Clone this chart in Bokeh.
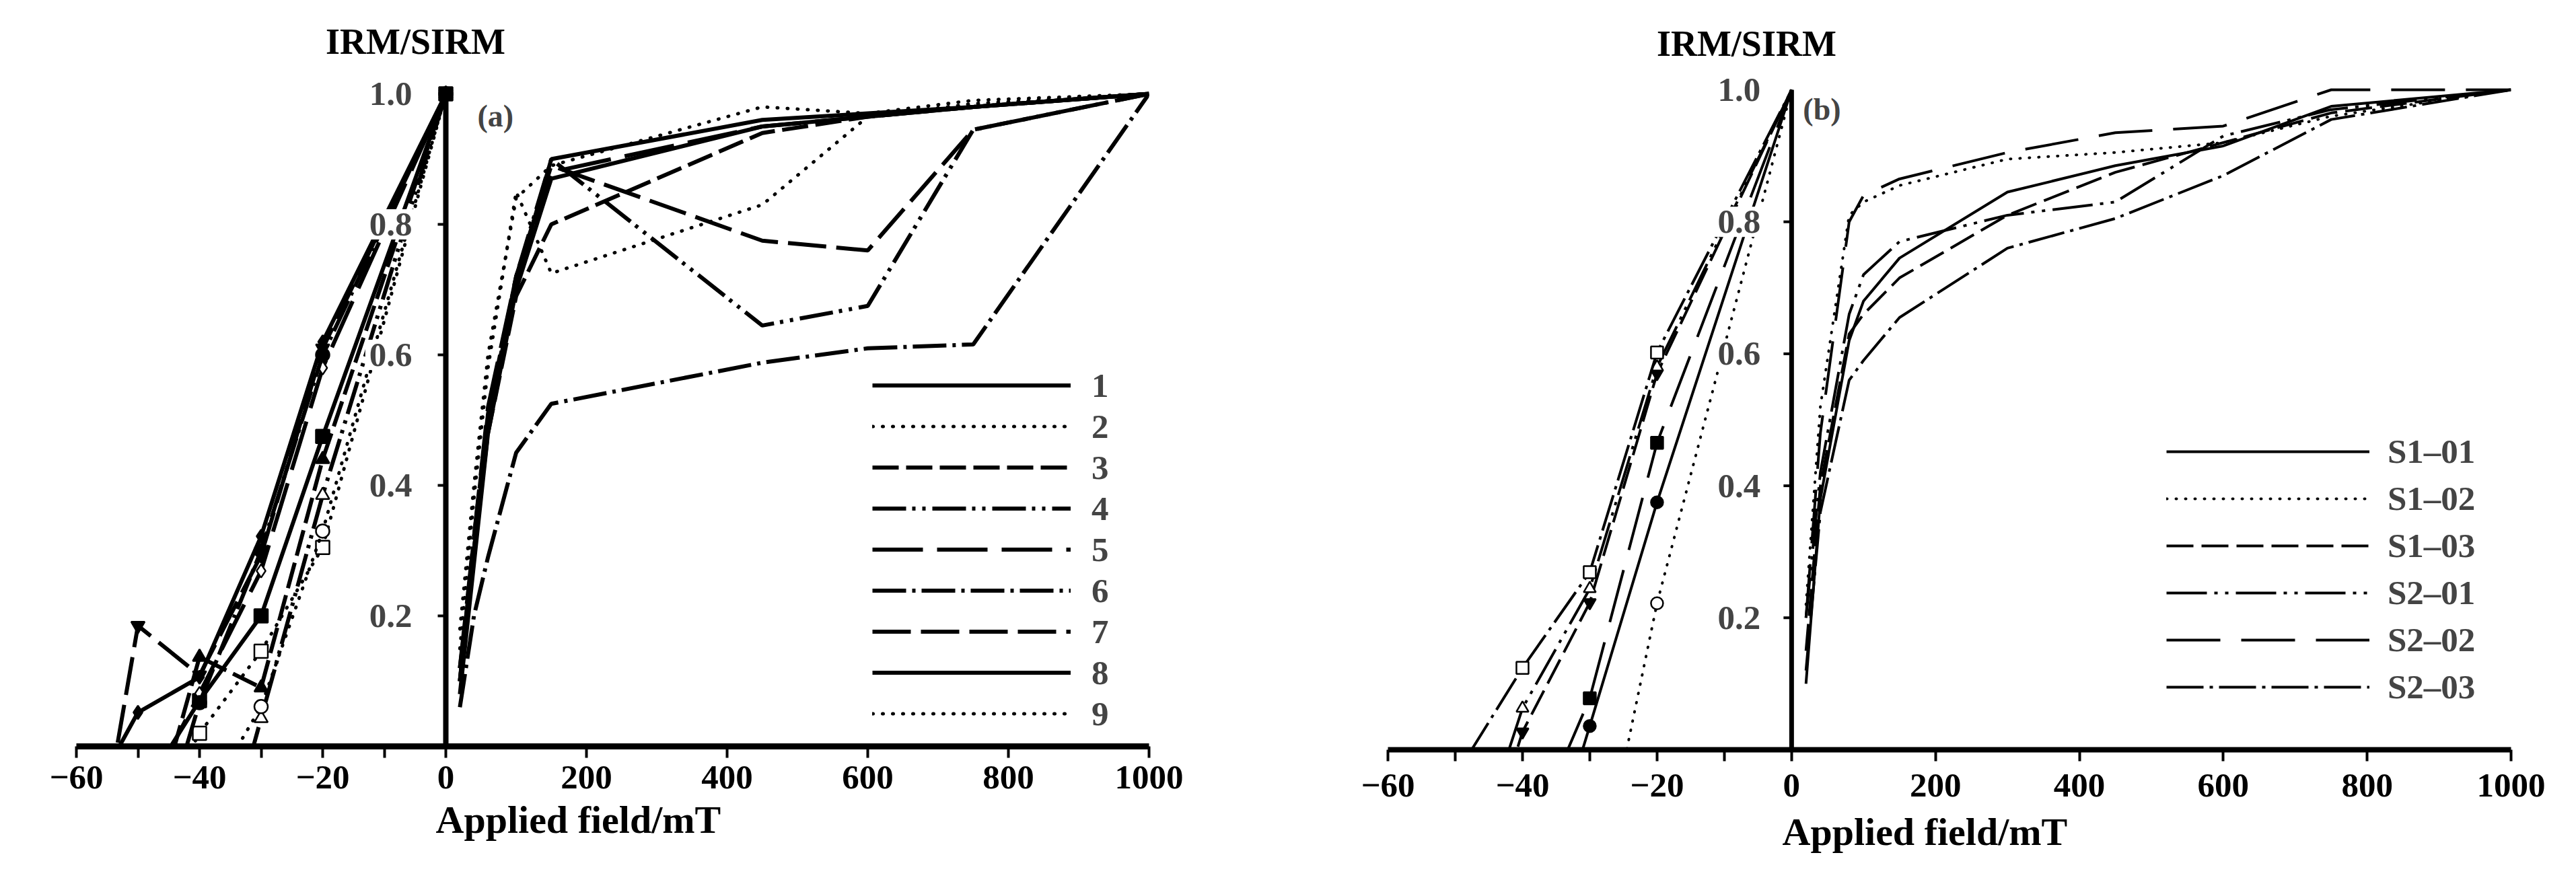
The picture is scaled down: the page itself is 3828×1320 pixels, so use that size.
from bokeh.plotting import figure
from bokeh.models import FixedTicker, Label, Legend, LegendItem, Range1d, Title
from bokeh.layouts import row
from bokeh.embed import file_html
from bokeh.resources import INLINE

# ---------------- data : panel (a) ----------------
x_tick_values = [-60, -50, -40, -30, -20, -10, 0, 200, 400, 600, 800, 1000]
x_tick_labels = ["\u221260", "", "\u221240", "", "\u221220", "", "0", "200", "400", "600", "800", "1000"]
y_tick_values = [0.2, 0.4, 0.6, 0.8, 1.0]
y_tick_labels = ["0.2", "0.4", "0.6", "0.8", "1.0"]

field_pos_a = [20, 40, 60, 100, 150, 450, 600, 750, 1000]
field_neg_a = [-60, -50, -40, -30, -20, 0]
names_a = ["1", "2", "3", "4", "5", "6", "7", "8", "9"]

a1_pos = [0.10, 0.30, 0.50, 0.71, 0.90, 0.96, 0.97, 0.98, 1.0]
a2_pos = [0.18, 0.40, 0.60, 0.84, 0.89, 0.98, 0.97, 0.99, 1.0]
a3_pos = [0.12, 0.30, 0.48, 0.69, 0.80, 0.94, 0.965, 0.98, 1.0]
a4_pos = [0.10, 0.30, 0.50, 0.72, 0.90, 0.645, 0.675, 0.945, 1.0]
a5_pos = [0.12, 0.32, 0.52, 0.72, 0.88, 0.95, 0.965, 0.98, 1.0]
a6_pos = [0.06, 0.20, 0.29, 0.45, 0.525, 0.588, 0.61, 0.616, 1.0]
a7_pos = [0.10, 0.32, 0.51, 0.72, 0.89, 0.775, 0.76, 0.945, 1.0]
a8_pos = [0.08, 0.28, 0.48, 0.70, 0.87, 0.95, 0.965, 0.98, 1.0]
a9_pos = [0.15, 0.38, 0.58, 0.85, 0.725, 0.83, 0.965, 0.985, 1.0]

a1_neg = [-0.35, -0.08, 0.07, 0.20, 0.475, 1.0]
a2_neg = [-0.40, -0.15, 0.02, 0.146, 0.305, 1.0]
a3_neg = [-0.50, -0.20, 0.137, 0.09, 0.44, 1.0]
a4_neg = [-0.80, -0.60, -0.30, 0.043, 0.385, 1.0]
a5_neg = [-0.40, -0.10, 0.081, 0.269, 0.58, 1.0]
a6_neg = [-0.50, -0.25, 0.067, 0.30, 0.60, 1.0]
a7_neg = [-0.36, 0.185, 0.109, 0.293, 0.61, 1.0]
a8_neg = [-0.12, 0.052, 0.106, 0.322, 0.62, 1.0]
a9_neg = [-0.60, -0.35, -0.10, 0.061, 0.33, 1.0]

# ---------------- data : panel (b) ----------------
field_pos_b = [20, 40, 80, 100, 150, 300, 450, 600, 750, 1000]
field_neg_b = [-60, -50, -40, -30, -20, 0]
names_b = ["S1\u201301", "S1\u201302", "S1\u201303", "S2\u201301", "S2\u201302", "S2\u201303"]

b1_pos = [0.10, 0.38, 0.62, 0.68, 0.745, 0.845, 0.885, 0.915, 0.975, 1.0]
b2_pos = [0.22, 0.52, 0.81, 0.83, 0.855, 0.895, 0.905, 0.92, 0.96, 1.0]
b3_pos = [0.15, 0.40, 0.63, 0.66, 0.715, 0.81, 0.875, 0.92, 0.965, 1.0]
b4_pos = [0.20, 0.42, 0.66, 0.72, 0.77, 0.81, 0.83, 0.93, 0.97, 1.0]
b5_pos = [0.20, 0.48, 0.80, 0.84, 0.865, 0.905, 0.935, 0.945, 1.0, 1.0]
b6_pos = [0.12, 0.36, 0.56, 0.59, 0.655, 0.76, 0.805, 0.87, 0.955, 1.0]

b1_neg = [-0.90, -0.60, -0.30, 0.036, 0.375, 1.0]
b2_neg = [-1.20, -0.90, -0.60, -0.27, 0.222, 1.0]
b3_neg = [-0.60, -0.30, 0.027, 0.223, 0.57, 1.0]
b4_neg = [-0.60, -0.25, 0.063, 0.244, 0.58, 1.0]
b5_neg = [-1.00, -0.70, -0.16, 0.078, 0.465, 1.0]
b6_neg = [-0.30, -0.04, 0.124, 0.269, 0.602, 1.0]

# ---------------- styles ----------------
FONT = "Liberation Serif"
styles_a = [
    dict(dash="solid", cap="butt", marker="square", filled=True, thin=False),
    dict(dash="1 14", cap="round", marker="square", filled=False, thin=True),
    dict(dash="39 11", cap="butt", marker="triangle", filled=True, thin=False),
    dict(dash="50 9 5 10 5 10", cap="butt", marker="triangle", filled=False, thin=False),
    dict(dash="75 21", cap="butt", marker="diamond", filled=False, thin=False),
    dict(dash="50 9 5 9", cap="butt", marker="circle", filled=True, thin=False),
    dict(dash="57 15", cap="butt", marker="inverted_triangle", filled=True, thin=False),
    dict(dash="solid", cap="butt", marker="diamond", filled=True, thin=False),
    dict(dash="1 14", cap="round", marker="circle", filled=False, thin=True),
]
styles_b = [
    dict(dash="solid", cap="butt", marker="circle", filled=True, thin=False),
    dict(dash="1 13", cap="round", marker="circle", filled=False, thin=True),
    dict(dash="40 12", cap="butt", marker="inverted_triangle", filled=True, thin=False),
    dict(dash="60 11 5 11 5 11", cap="butt", marker="triangle", filled=False, thin=False),
    dict(dash="80 31", cap="butt", marker="square", filled=True, thin=False),
    dict(dash="55 9 5 9", cap="butt", marker="square", filled=False, thin=False),
]

PAGE_MARGIN = 8
FRAME_TOP_PAGE = 20   # frame reaches up to here so the y title sits inside it


def tx(vals, k):
    return [v * k if v < 0 else float(v) for v in vals]


def build(cfg, pos_series, neg_series, field_pos, field_neg, names, styles):
    k = cfg["kneg"]
    px = cfg["px_per_unit"]
    uh = cfg["unit_h"]
    fh = cfg["y0_page"] - FRAME_TOP_PAGE
    y_top = fh / uh
    bt = FRAME_TOP_PAGE - PAGE_MARGIN
    bb = 1320 - 2 * PAGE_MARGIN - bt - fh
    p = figure(frame_width=cfg["frame_w"], frame_height=fh,
               min_border_left=cfg["bl"], min_border_right=cfg["br"],
               min_border_top=bt, min_border_bottom=bb,
               x_range=Range1d(-60 * k, 1000), y_range=Range1d(0, y_top),
               y_axis_location=None, output_backend="svg", toolbar_location=None)
    p.outline_line_color = None
    p.xgrid.visible = False
    p.ygrid.visible = False
    p.background_fill_color = "white"
    p.border_fill_color = "white"

    ax = p.xaxis[0]
    tvals = tx(x_tick_values, k)
    ax.ticker = FixedTicker(ticks=tvals)
    ax.major_label_overrides = {t: lab for t, lab in zip(tvals, x_tick_labels)}
    ax.axis_line_width = cfg["axis_w"]
    ax.major_tick_line_width = 4
    ax.major_tick_out = 17
    ax.major_tick_in = 0
    ax.minor_tick_line_color = None
    ax.major_label_standoff = cfg["standoff"]
    ax.major_label_text_font = FONT
    ax.major_label_text_font_style = "bold"
    ax.major_label_text_font_size = "51px"
    ax.major_label_text_color = "black"

    items = []
    for name, ys_pos, ys_neg, st in zip(names, pos_series, neg_series, styles):
        lw = cfg["lw_dot"] if st["thin"] else cfg["lw"]
        r = p.line(tx(field_pos, k), ys_pos, line_color="black", line_width=lw,
                   line_dash=st["dash"], line_cap=st["cap"])
        p.line(tx(field_neg, k), ys_neg, line_color="black", line_width=lw,
               line_dash=st["dash"], line_cap=st["cap"])
        keep = [0 <= y and (x <= -20 or (cfg["zero_marks"] and st["filled"] and x == 0))
                for x, y in zip(field_neg, ys_neg)]
        mx = [x for x, kk in zip(field_neg, keep) if kk]
        my = [y for y, kk in zip(ys_neg, keep) if kk]
        p.scatter(tx(mx, k), my, marker=st["marker"], size=cfg["msize"],
                  fill_color="black" if st["filled"] else "white",
                  line_color="black", line_width=2.5)
        items.append(LegendItem(label=name, renderers=[r]))

    # central y axis (from 0 to 1.0) with ticks pointing left
    p.segment(x0=[0], x1=[0], y0=[0], y1=[1.0], line_color="black", line_width=cfg["axis_w"] - 1)
    tick_len = 12 / px
    p.segment(x0=[-tick_len] * 4, x1=[0] * 4, y0=y_tick_values[:4], y1=y_tick_values[:4],
              line_color="black", line_width=4)
    for v, lab in zip(y_tick_values, y_tick_labels):
        p.add_layout(Label(x=0, y=v, x_offset=cfg["ylab_off"], text=lab, text_align="right",
                           text_baseline="middle", text_font=FONT, text_font_style="bold",
                           text_font_size="51px", background_fill_color="white", padding=6))

    def dx(page_x):
        return (page_x - cfg["x0_page"]) / px

    def dy(page_y):
        return (cfg["y0_page"] - page_y) / uh

    # panel tag (a)/(b)
    p.add_layout(Label(x=dx(cfg["tag_left"]), y=dy(cfg["tag_cy"]),
                       text=cfg["tag"], text_align="left", text_baseline="middle",
                       text_font=FONT, text_font_style="bold", text_font_size="46px"))
    # y title (inside the enlarged frame, above the 1.0 level)
    p.add_layout(Label(x=dx(cfg["ytitle_cx"]), y=dy(cfg["ytitle_base"]), text="IRM/SIRM",
                       text_align="center", text_baseline="alphabetic", text_font=FONT,
                       text_font_style="bold", text_font_size="54px", text_color="black"))
    # x title below the axis
    p.add_layout(Title(text="Applied field/mT", align="left", offset=cfg["xtitle_off"],
                       standoff=cfg["xtitle_so"], text_font=FONT, text_font_style="bold",
                       text_font_size="58px", text_color="black"), "below")

    legend = Legend(items=items, location=cfg["leg_loc"], orientation="vertical",
                    glyph_width=cfg["leg_gw"], glyph_height=cfg["leg_pitch"],
                    label_height=cfg["leg_pitch"], label_standoff=cfg["leg_so"],
                    spacing=0, padding=0, margin=0, border_line_color=None,
                    background_fill_alpha=0, label_text_font=FONT,
                    label_text_font_style="bold", label_text_font_size="51px",
                    label_text_baseline="middle")
    p.add_layout(legend)
    return p


cfg_a = dict(kneg=9.15 / 1.045, px_per_unit=1.045, frame_w=1594, unit_h=970,
             bl=113, br=193, axis_w=9, standoff=12, lw=6, lw_dot=5, msize=20,
             zero_marks=True, ylab_off=-44, x0_page=671, y0_page=1117,
             tag="(a)", tag_left=718, tag_cy=180,
             ytitle_cx=626, ytitle_base=69, xtitle_off=534, xtitle_so=18,
             leg_loc=(1183, 18), leg_gw=295, leg_pitch=61, leg_so=31)
cfg_b = dict(kneg=10 / 1.0694, px_per_unit=1.0694, frame_w=1669, unit_h=981,
             bl=162, br=81, axis_w=8, standoff=19, lw=4, lw_dot=4, msize=18,
             zero_marks=False, ylab_off=-40, x0_page=2670, y0_page=1122,
             tag="(b)", tag_left=2687, tag_cy=170,
             ytitle_cx=2603, ytitle_base=72, xtitle_off=586, xtitle_so=30,
             leg_loc=(1157, 58), leg_gw=302, leg_pitch=70, leg_so=27)

pa = build(cfg_a,
           [a1_pos, a2_pos, a3_pos, a4_pos, a5_pos, a6_pos, a7_pos, a8_pos, a9_pos],
           [a1_neg, a2_neg, a3_neg, a4_neg, a5_neg, a6_neg, a7_neg, a8_neg, a9_neg],
           field_pos_a, field_neg_a, names_a, styles_a)
pb = build(cfg_b,
           [b1_pos, b2_pos, b3_pos, b4_pos, b5_pos, b6_pos],
           [b1_neg, b2_neg, b3_neg, b4_neg, b5_neg, b6_neg],
           field_pos_b, field_neg_b, names_b, styles_b)

layout = row(pa, pb, spacing=0)
open("out.html", "w").write(file_html(layout, INLINE))
